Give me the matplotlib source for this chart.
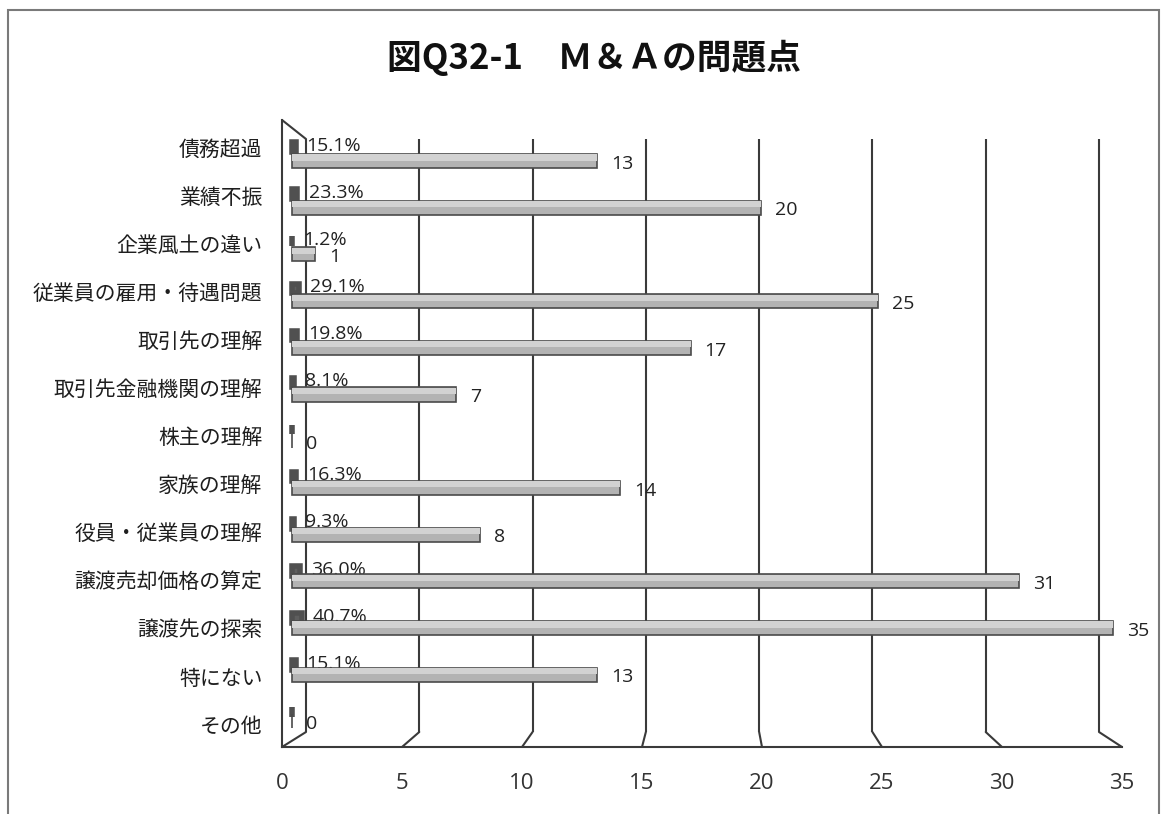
import matplotlib
matplotlib.use("Agg")
import matplotlib.pyplot as plt
from matplotlib.patches import ConnectionPatch, Rectangle
from matplotlib.transforms import blended_transform_factory

plt.rcParams['font.family'] = ['Noto Sans CJK JP', 'DejaVu Sans']

# ---------------- data ----------------
title = "図Q32-1　Ｍ＆Ａの問題点"
categories = ["債務超過", "業績不振", "企業風土の違い", "従業員の雇用・待遇問題",
              "取引先の理解", "取引先金融機関の理解", "株主の理解", "家族の理解",
              "役員・従業員の理解", "譲渡売却価格の算定", "譲渡先の探索", "特にない", "その他"]
counts = [13, 20, 1, 25, 17, 7, 0, 14, 8, 31, 35, 13, 0]
percents = [15.1, 23.3, 1.2, 29.1, 19.8, 8.1, 0.0, 16.3, 9.3, 36.0, 40.7, 15.1, 0.0]
x_ticks = [0, 5, 10, 15, 20, 25, 30, 35]
x_max = 35

# ---------------- layout helpers ----------------
W, H = 1166, 814
fig = plt.figure(figsize=(W / 100, H / 100), dpi=100)
fig.patch.set_facecolor("white")


def add_px_axes(left, top, right, bottom, z):
    ax = fig.add_axes([left / W, 1 - bottom / H, (right - left) / W, (bottom - top) / H])
    ax.set_zorder(z)
    return ax


def row_ylim(first_px, step_px, top_px, bottom_px):
    return ((bottom_px - first_px) / step_px, (top_px - first_px) / step_px)


n = len(categories)
rows = list(range(n))

# outer frame
fig.patches.append(Rectangle((8 / W, -0.01), (1159 - 8) / W, 1 - 10 / H + 0.01,
                             transform=fig.transFigure, fill=False,
                             edgecolor="#7a7a7a", linewidth=1.5))

fig.text(594 / W, 1 - 58 / H, title, ha="center", va="center",
         fontsize=25, fontweight="bold", color="#111111")

grid_col = "#3a3a3a"

# back wall (gridlines)
ax_back = add_px_axes(306, 139, 1099, 732, 1)
ax_back.set_xlim(0, x_max)
ax_back.set_ylim(0, 1)
ax_back.axis("off")
ax_back.vlines(x_ticks, 0, 1, color=grid_col, linewidth=1.5, clip_on=False)

# front frame with tick labels and category labels
ax_front = add_px_axes(282, 120, 1122, 747, 2)
ax_front.set_facecolor("none")
ax_front.set_xlim(0, x_max)
ax_front.set_ylim(*row_ylim(147, 48.1, 120, 747))
for s in ["top", "right"]:
    ax_front.spines[s].set_visible(False)
for s in ["left", "bottom"]:
    ax_front.spines[s].set_color(grid_col)
    ax_front.spines[s].set_linewidth(1.5)
ax_front.set_xticks(x_ticks)
ax_front.set_xticklabels([str(t) for t in x_ticks], fontfamily=["Open Sans"],
                         fontsize=16, color="#333333")
ax_front.set_yticks(rows)
ax_front.set_yticklabels(categories, fontsize=15, color="#1e1e1e")
ax_front.tick_params(axis="x", length=0, pad=19)
ax_front.tick_params(axis="y", length=0, pad=14)

# floor diagonals
tb = blended_transform_factory(ax_back.transData, ax_back.transAxes)
tf = blended_transform_factory(ax_front.transData, ax_front.transAxes)
for v in x_ticks:
    fig.add_artist(ConnectionPatch(xyA=(v, 0), coordsA=tb, xyB=(v, 0), coordsB=tf,
                                   color=grid_col, linewidth=1.5))
fig.add_artist(ConnectionPatch(xyA=(0, 1), coordsA=tb, xyB=(0, 1), coordsB=tf,
                               color=grid_col, linewidth=1.5))

# percentage series (small bars)
ax_pct = add_px_axes(292, 120, 1113, 747, 3)
ax_pct.set_facecolor("none")
ax_pct.axis("off")
ax_pct.set_xlim(0, x_max)
ax_pct.set_ylim(*row_ylim(147, 47.1, 120, 747))
ax_pct.barh(rows, [p / 100 for p in percents], height=0.2, color="#5e5e5e",
            edgecolor="#505050", linewidth=4, clip_on=False)
for i, p in enumerate(percents):
    if p > 0:
        ax_pct.annotate(f"{p:.1f}%", (p / 100, i), xytext=(8, 1),
                        textcoords="offset points", ha="left", va="center",
                        fontsize=14, fontfamily=["Open Sans"], color="#222222")

# count series
ax_cnt = add_px_axes(292, 120, 1113, 747, 4)
ax_cnt.set_facecolor("none")
ax_cnt.axis("off")
ax_cnt.set_xlim(0, x_max)
ax_cnt.set_ylim(*row_ylim(161, 46.7, 120, 747))
ax_cnt.barh(rows, counts, height=0.3, color="#b3b3b3", edgecolor="#4a4a4a",
            linewidth=1.2, clip_on=False)
# lighter top face of each count bar (3D-like shading)
ax_cnt.barh([r - 0.075 for r in rows], counts, height=0.13, color="#d2d2d2",
            linewidth=0, clip_on=False)
for i, c in enumerate(counts):
    ax_cnt.annotate(str(c), (c, i), xytext=(10, -2), textcoords="offset points",
                    ha="left", va="center", fontsize=14,
                    fontfamily=["Open Sans"], color="#222222")

fig.savefig("out.png", dpi=100, facecolor="white")
